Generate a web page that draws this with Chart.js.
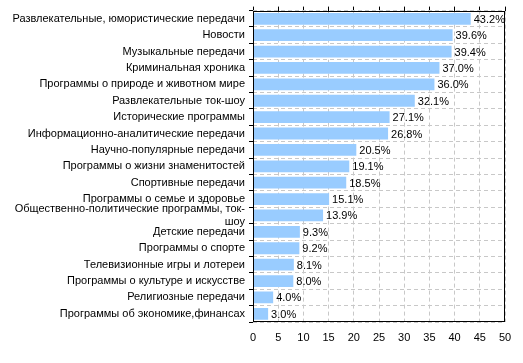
<!DOCTYPE html>
<html>
<head>
<meta charset="utf-8">
<script src="https://cdn.jsdelivr.net/npm/chart.js@4/dist/chart.umd.min.js"></script>
<style>
    html, body { margin: 0; padding: 0; background: #fff; }
    #wrap { width: 523px; height: 363px; }
</style>
</head>
<body>
<div id="wrap"><canvas id="tvChart" width="523" height="363"></canvas></div>
<script>
// Категории (сверху вниз)
const categorias = [
    'Развлекательные, юмористические передачи',
    'Новости',
    'Музыкальные передачи',
    'Криминальная хроника',
    'Программы о природе и животном мире',
    'Развлекательные ток-шоу',
    'Исторические программы',
    'Информационно-аналитические передачи',
    'Научно-популярные передачи',
    'Программы о жизни знаменитостей',
    'Спортивные передачи',
    'Программы о семье и здоровье',
    ['Общественно-политические программы, ток-', 'шоу'],
    'Детские передачи',
    'Программы о спорте',
    'Телевизионные игры и лотереи',
    'Программы о культуре и искусстве',
    'Религиозные передачи',
    'Программы об экономике,финансах'
];
const valores = [43.2, 39.6, 39.4, 37.0, 36.0, 32.1, 27.1, 26.8, 20.5, 19.1, 18.5, 15.1, 13.9, 9.3, 9.2, 8.1, 8.0, 4.0, 3.0];
const escalaMin = 0;
const escalaMax = 50;
const escalaPasso = 5;

document.addEventListener('DOMContentLoaded', function() {
    const fonte = { family: '"Liberation Sans", Arial, sans-serif', size: 11 };

    // rótulos de valor ao lado das barras
    const valueLabels = {
        id: 'valueLabels',
        afterDatasetsDraw(chart) {
            const ctx = chart.ctx;
            const meta = chart.getDatasetMeta(0);
            ctx.save();
            ctx.font = fonte.size + 'px ' + fonte.family;
            ctx.fillStyle = '#000';
            ctx.textBaseline = 'middle';
            ctx.textAlign = 'left';
            meta.data.forEach(function(bar, i) {
                ctx.fillText(valores[i].toFixed(1) + '%', bar.x + 3, bar.y + 1);
            });
            ctx.restore();
        }
    };

    // moldura preta da área do gráfico
    const frame = {
        id: 'frame',
        afterDraw(chart) {
            const a = chart.chartArea;
            const ctx = chart.ctx;
            ctx.save();
            ctx.strokeStyle = '#000';
            ctx.lineWidth = 1;
            ctx.strokeRect(Math.round(a.left) + 0.5, Math.round(a.top) + 0.5,
                Math.round(a.right - a.left) - 1, Math.round(a.bottom - a.top) - 1);
            ctx.restore();
        }
    };

    new Chart(document.getElementById('tvChart').getContext('2d'), {
        type: 'bar',
        data: {
            labels: categorias,
            datasets: [{
                data: valores,
                backgroundColor: '#99ccff',
                borderWidth: 0,
                barPercentage: 0.72,
                categoryPercentage: 1.0
            }]
        },
        options: {
            indexAxis: 'y',
            responsive: false,
            animation: false,
            layout: { padding: { left: 0, right: 18, top: 0, bottom: 0 } },
            plugins: {
                legend: { display: false },
                tooltip: { enabled: false }
            },
            scales: {
                x: {
                    position: 'bottom',
                    min: escalaMin,
                    max: escalaMax,
                    ticks: { stepSize: escalaPasso, color: '#000', font: fonte, padding: 9 },
                    grid: { color: '#c8c8c8', drawTicks: false },
                    border: { display: false, dash: [4, 3] },
                    afterFit: function(scale) { scale.height = 41; }
                },
                x2: {
                    position: 'top',
                    min: escalaMin,
                    max: escalaMax,
                    ticks: { stepSize: escalaPasso, display: false },
                    grid: { drawOnChartArea: false, tickLength: 4, tickColor: '#000' },
                    border: { display: false },
                    afterFit: function(scale) { scale.height = 5; }
                },
                y: {
                    ticks: { color: '#000', font: fonte, padding: 4, autoSkip: false },
                    grid: { color: '#c8c8c8', tickLength: 4, tickColor: '#000', tickBorderDash: [] },
                    border: { display: false, dash: [4, 3] },
                    afterFit: function(scale) { scale.width = 253; }
                }
            }
        },
        plugins: [valueLabels, frame]
    });
});
</script>
</body>
</html>
